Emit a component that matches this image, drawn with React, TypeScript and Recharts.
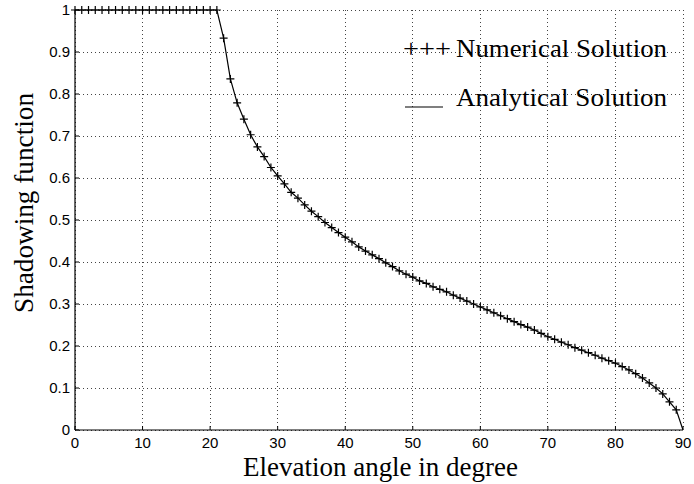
import { LineChart, Line, XAxis, YAxis, CartesianGrid, Customized } from 'recharts'

// elevation angle in degrees
const angles = [
  0, 1, 2, 3, 4, 5, 6, 7, 8, 9, 10, 11, 12, 13, 14, 15, 16, 17, 18, 19, 20,
  21, 22, 23, 24, 25, 26, 27, 28, 29, 30, 31, 32, 33, 34, 35, 36, 37, 38, 39, 40,
  41, 42, 43, 44, 45, 46, 47, 48, 49, 50, 51, 52, 53, 54, 55, 56, 57, 58, 59, 60,
  61, 62, 63, 64, 65, 66, 67, 68, 69, 70, 71, 72, 73, 74, 75, 76, 77, 78, 79, 80,
  81, 82, 83, 84, 85, 86, 87, 88, 89, 90,
]

// shadowing function (analytical)
const shadowing = [
  1, 1, 1, 1, 1, 1, 1, 1, 1, 1, 1, 1, 1, 1, 1, 1, 1, 1, 1, 1, 1,
  1, 0.933, 0.836, 0.779, 0.74, 0.703, 0.674, 0.651, 0.625, 0.605,
  0.586, 0.566, 0.552, 0.536, 0.521, 0.508, 0.494, 0.482, 0.47, 0.459,
  0.448, 0.436, 0.426, 0.417, 0.408, 0.398, 0.389, 0.379, 0.371, 0.364,
  0.355, 0.349, 0.341, 0.335, 0.329, 0.321, 0.314, 0.307, 0.3, 0.293,
  0.286, 0.279, 0.272, 0.265, 0.258, 0.251, 0.245, 0.238, 0.23, 0.222,
  0.216, 0.209, 0.203, 0.196, 0.19, 0.184, 0.178, 0.171, 0.165, 0.159,
  0.151, 0.143, 0.134, 0.124, 0.112, 0.1, 0.086, 0.067, 0.048, 0,
]

// numerical solution is sampled every degree up to 89
const lastNumerical = 89

const xTicks = [0, 10, 20, 30, 40, 50, 60, 70, 80, 90]
const yTicks = [0, 0.1, 0.2, 0.3, 0.4, 0.5, 0.6, 0.7, 0.8, 0.9, 1]

const data = angles.map((a, i) => ({ angle: a, value: shadowing[i] }))

const serif = '"Liberation Serif", "Times New Roman", serif'
const sans = '"Liberation Sans", Arial, sans-serif'

const PlusDot = (props: any) => {
  const { cx, cy, payload, index } = props
  if (cx == null || cy == null || payload.angle > lastNumerical) return <g key={index} />
  return (
    <path
      key={index}
      d={`M${cx - 4},${cy}h8M${cx},${cy - 4}v8`}
      stroke="#000"
      strokeWidth={1.2}
      fill="none"
    />
  )
}

const Labels = () => (
  <g fontFamily={serif} fill="#000">
    <text x={403} y={57} fontSize={26} textLength={48} lengthAdjust="spacingAndGlyphs">+++</text>
    <text x={456} y={57} fontSize={26} textLength={211} lengthAdjust="spacingAndGlyphs">Numerical Solution</text>
    <line x1={405} x2={443} y1={107} y2={107} stroke="#000" strokeWidth={1.2} />
    <text x={456} y={106} fontSize={26} textLength={211} lengthAdjust="spacingAndGlyphs">Analytical Solution</text>
    <text x={243} y={476} fontSize={27} textLength={275} lengthAdjust="spacingAndGlyphs">Elevation angle in degree</text>
    <text
      transform="translate(33,313) rotate(-90)"
      x={0}
      y={0}
      fontSize={27}
      textLength={220}
      lengthAdjust="spacingAndGlyphs"
    >
      Shadowing function
    </text>
  </g>
)

export default function App() {
  return (
    <div style={{ position: 'absolute', left: 0, top: 0, background: '#fff' }}>
      <LineChart
        width={694}
        height={484}
        data={data}
        margin={{ top: 10, right: 11, bottom: 24, left: 0 }}
      >
        <CartesianGrid
          stroke="#444"
          strokeDasharray="1 3"
          shapeRendering="crispEdges"
          horizontalValues={yTicks}
          verticalValues={xTicks}
        />
        <XAxis
          dataKey="angle"
          type="number"
          domain={[0, 90]}
          ticks={xTicks}
          height={30}
          tickSize={-4}
          tickMargin={11}
          axisLine={{ stroke: '#000', strokeWidth: 1.2 }}
          tickLine={{ stroke: '#000' }}
          tick={{ fill: '#000', fontSize: 15, fontFamily: sans }}
          interval={0}
        />
        <YAxis
          type="number"
          domain={[0, 1]}
          ticks={yTicks}
          width={75}
          tickSize={-4}
          tickMargin={9}
          axisLine={{ stroke: '#000', strokeWidth: 1.2 }}
          tickLine={{ stroke: '#000' }}
          tick={{ fill: '#000', fontSize: 15, fontFamily: sans }}
          tickFormatter={(v: number) => String(Math.round(v * 10) / 10)}
          interval={0}
        />
        <Line
          dataKey="value"
          type="linear"
          stroke="#000"
          strokeWidth={1.2}
          dot={PlusDot}
          activeDot={false}
          isAnimationActive={false}
        />
        <Customized component={Labels} />
      </LineChart>
    </div>
  )
}
